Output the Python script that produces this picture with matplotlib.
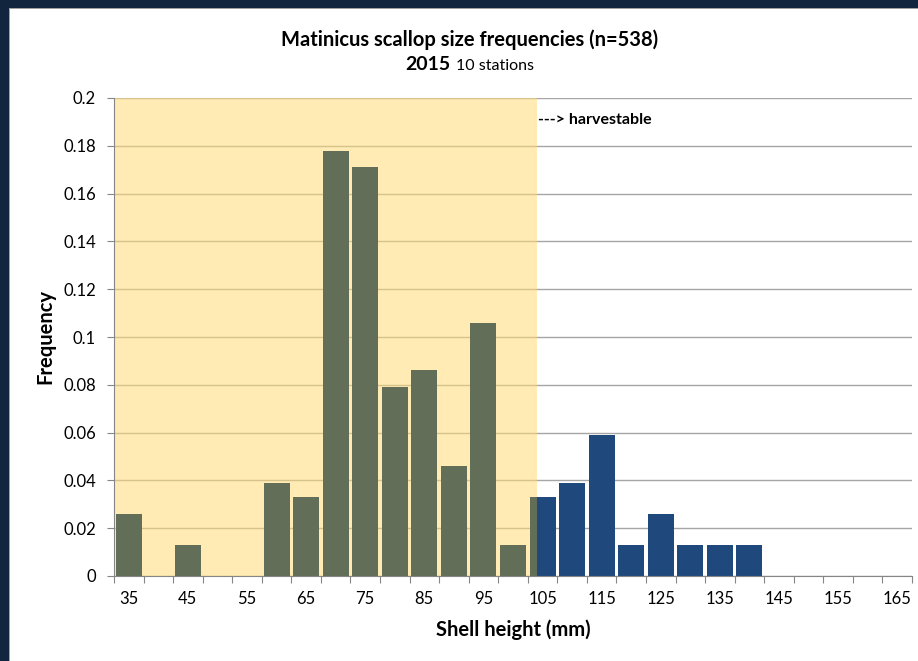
import numpy as np
import matplotlib.pyplot as plt
from matplotlib.patches import Rectangle
from matplotlib.offsetbox import TextArea, HPacker, AnnotationBbox

plt.rcParams['font.family'] = ['Lato', 'DejaVu Sans']

# shell height bins (mm), 5 mm classes
sizes = [35, 40, 45, 50, 55, 60, 65, 70, 75, 80, 85, 90, 95, 100, 105,
         110, 115, 120, 125, 130, 135, 140, 145, 150, 155, 160, 165]
label_sizes = [35, 45, 55, 65, 75, 85, 95, 105, 115, 125, 135, 145, 155, 165]

# below harvest size
sizes_small = [35, 40, 45, 50, 55, 60, 65, 70, 75, 80, 85, 90, 95, 100, 105]
freq_small = [0.026, 0.0, 0.013, 0.0, 0.0, 0.039, 0.033, 0.178, 0.171,
              0.079, 0.086, 0.046, 0.106, 0.013, 0.033]

# harvestable
sizes_legal = [105, 110, 115, 120, 125, 130, 135, 140]
freq_legal = [0.033, 0.039, 0.059, 0.013, 0.026, 0.013, 0.013, 0.013]

cutoff = 104.1   # harvest line (mm)

GRAY = "#636E58"
BLUE = "#1F487C"
YELLOW = "#FFDB75"
NAVY = "#12253F"
AXC = "#868686"

bin_w = 5.0
bar_w = 4.4
x_lo = sizes[0] - bin_w / 2
x_hi = sizes[-1] + bin_w / 2

fig = plt.figure(figsize=(9.18, 6.61), dpi=100)
ax = fig.add_axes([114 / 918, 1 - 576 / 661, 798 / 918, 478 / 661])

# frame around the picture
fig.patches.append(Rectangle((0, 0), 9 / 918, 1, transform=fig.transFigure,
                             facecolor=NAVY, edgecolor="none", zorder=0))
fig.patches.append(Rectangle((0, 1 - 8 / 661), 1, 8 / 661, transform=fig.transFigure,
                             facecolor=NAVY, edgecolor="none", zorder=0))
fig.patches.append(Rectangle((9 / 918, 0), 1.2 / 918, 1 - 8 / 661, transform=fig.transFigure,
                             facecolor="#A0A0A0", edgecolor="none", zorder=0))
fig.patches.append(Rectangle((9 / 918, 1 - 9.2 / 661), 1, 1.2 / 661, transform=fig.transFigure,
                             facecolor="#A0A0A0", edgecolor="none", zorder=0))

ax.set_axisbelow(True)
ax.yaxis.grid(True, color="#A6A6A6", linewidth=1.0)
ax.axvspan(x_lo, cutoff, color=YELLOW, alpha=0.55, lw=0, zorder=1)

c = np.array(sizes_small, float)
left = c - bar_w / 2
right = np.minimum(c + bar_w / 2, cutoff)
ax.bar(left, freq_small, width=right - left, align="edge", color=GRAY, zorder=2)

c = np.array(sizes_legal, float)
left = np.maximum(c - bar_w / 2, cutoff)
right = c + bar_w / 2
ax.bar(left, freq_legal, width=right - left, align="edge", color=BLUE, zorder=2)

ax.set_xlim(x_lo, x_hi)
ax.set_ylim(0, 0.2)

yt = np.arange(0, 0.2001, 0.02)
ax.set_yticks(yt)
ax.set_yticklabels(["0"] + [f"{v:g}" for v in yt[1:]])
ax.set_xticks(np.arange(x_lo, x_hi + 0.1, bin_w))
ax.set_xticklabels([])
ax.set_xticks(label_sizes, minor=True)
ax.set_xticklabels([str(s) for s in label_sizes], minor=True)

ax.tick_params(axis="y", length=5, color=AXC, labelsize=12, pad=8)
ax.tick_params(axis="x", which="major", length=5, color=AXC)
ax.tick_params(axis="x", which="minor", length=0, labelsize=12, pad=11)

for s in ["top", "right"]:
    ax.spines[s].set_visible(False)
for s in ["left", "bottom"]:
    ax.spines[s].set_color(AXC)
    ax.spines[s].set_zorder(3)

ax.set_xlabel("Shell height (mm)", fontsize=14.5, fontweight="bold", labelpad=9)
ax.set_ylabel("Frequency", fontsize=14.5, fontweight="bold")
ax.yaxis.set_label_coords(-0.073, 0.5)

ax.text(cutoff + 0.2, 0.191, "---> harvestable", fontsize=11.5, fontweight="bold",
        ha="left", va="center", zorder=4)

fig.text(470 / 918, 1 - 40 / 661, "Matinicus scallop size frequencies (n=538)",
         ha="center", va="center", fontsize=14.5, fontweight="bold")
line2 = HPacker(children=[TextArea("2015", textprops=dict(fontsize=14, fontweight="bold")),
                          TextArea("10 stations", textprops=dict(fontsize=11.5))],
                align="baseline", pad=0, sep=4)
fig.add_artist(AnnotationBbox(line2, (470 / 918, 1 - 64 / 661), xycoords="figure fraction",
                              box_alignment=(0.5, 0.5), frameon=False, pad=0))

fig.savefig("out.png", dpi=100)
